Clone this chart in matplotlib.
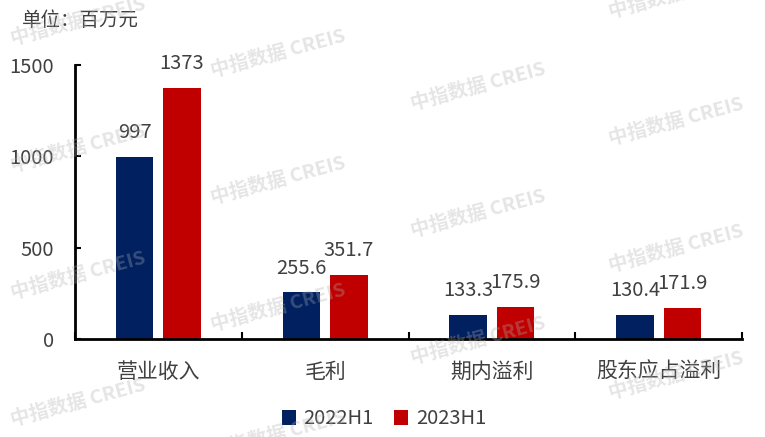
import matplotlib
matplotlib.use("Agg")
import matplotlib.pyplot as plt
import numpy as np

plt.rcParams['font.family'] = ['Noto Sans CJK SC', 'DejaVu Sans']

categories = ['营业收入', '毛利', '期内溢利', '股东应占溢利']
series_names = ['2022H1', '2023H1']
values_2022 = [997, 255.6, 133.3, 130.4]
values_2023 = [1373, 351.7, 175.9, 171.9]
label_2022 = ['997', '255.6', '133.3', '130.4']
label_2023 = ['1373', '351.7', '175.9', '171.9']
yticks = [0, 500, 1000, 1500]

W, H = 765, 437
fig = plt.figure(figsize=(W / 100, H / 100), dpi=100)
ax = fig.add_axes([75 / W, (H - 339) / H, (742 - 75) / W, (339 - 65) / H])

txt = '#404040'
navy = '#002060'
red = '#C00000'

x = np.arange(len(categories))
bw = 0.225
off = 0.142
b1 = ax.bar(x - off, values_2022, bw, color=navy, label=series_names[0], zorder=2)
b2 = ax.bar(x + off, values_2023, bw, color=red, label=series_names[1], zorder=2)

for bars, labs in ((b1, label_2022), (b2, label_2023)):
    for r, lab in zip(bars, labs):
        ax.annotate(lab, (r.get_x() + r.get_width() / 2, r.get_height()),
                    xytext=(0, 13.5), textcoords='offset points',
                    ha='center', va='baseline', fontsize=14.5, color=txt)

ax.set_xlim(-0.5, len(categories) - 0.5)
ax.set_ylim(0, 1500)
ax.set_yticks(yticks)
ax.set_yticklabels([str(v) for v in yticks], fontsize=14.5, color=txt)
ax.tick_params(axis='y', direction='in', length=4, width=1.5, pad=15, colors='black', labelcolor=txt)
ax.set_xticks(np.arange(len(categories) + 1) - 0.5, minor=False)
ax.set_xticklabels([''] * (len(categories) + 1))
ax.tick_params(axis='x', direction='in', length=5, width=1.5, colors='black')
ax.set_xticks(x, minor=True)
ax.set_xticklabels(categories, minor=True, fontsize=15, color=txt)
ax.tick_params(axis='x', which='minor', length=0, pad=16, labelcolor=txt)

for s in ['top', 'right']:
    ax.spines[s].set_visible(False)
ax.spines['left'].set_linewidth(2)
ax.spines['bottom'].set_linewidth(2)

fig.text(22 / W, 1 - 20 / H, '单位：百万元', fontsize=14, color=txt, ha='left', va='center')

fig.legend(handles=[b1, b2], labels=series_names, loc='center',
           bbox_to_anchor=(384 / W, 1 - 419 / H), ncol=2, frameon=False,
           fontsize=14.5, handlelength=0.7, handleheight=0.7, handletextpad=0.4,
           columnspacing=1.0, labelcolor=txt)

# watermarks
col_x = [78, 278, 478, 676]
col_y0 = [22, 54, 87, -5]
for cx, y0 in zip(col_x, col_y0):
    for k in range(5):
        cy = y0 + 127 * k
        if cy > H + 20:
            continue
        fig.text(cx / W, 1 - cy / H, '中指数据 CREIS', fontsize=14, fontweight='bold',
                 color='#b0b0b0', alpha=0.32, rotation=15, ha='center', va='center',
                 rotation_mode='anchor', zorder=10)

fig.savefig('out.png', dpi=100)
